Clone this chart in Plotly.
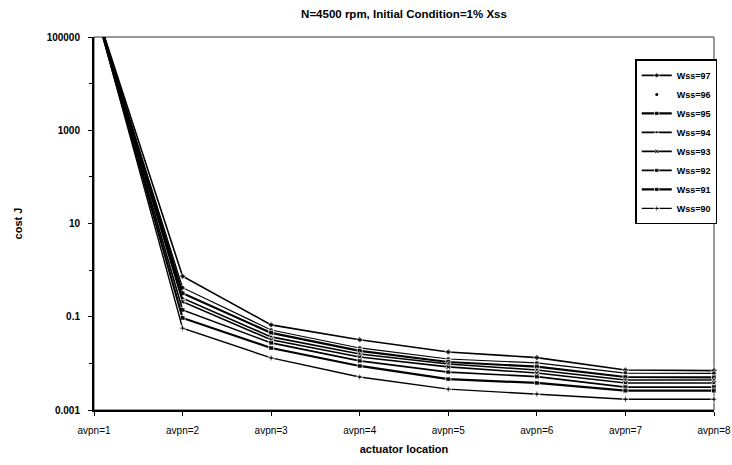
import plotly.graph_objects as go

categories = ["avpn=1", "avpn=2", "avpn=3", "avpn=4", "avpn=5", "avpn=6", "avpn=7", "avpn=8"]
series_names = ["Wss=97", "Wss=96", "Wss=95", "Wss=94", "Wss=93", "Wss=92", "Wss=91", "Wss=90"]

wss97 = [5.0e5, 0.74, 0.067, 0.032, 0.0176, 0.0133, 0.0072, 0.0070]
wss96 = [5.0e5, 0.42, 0.052, 0.0214, 0.0124, 0.0102, 0.0062, 0.0061]
wss95 = [5.0e5, 0.32, 0.045, 0.0185, 0.0107, 0.0085, 0.0051, 0.0050]
wss94 = [5.0e5, 0.25, 0.037, 0.0159, 0.0097, 0.0072, 0.0044, 0.0044]
wss93 = [5.0e5, 0.21, 0.032, 0.0137, 0.0084, 0.0062, 0.0038, 0.0038]
wss92 = [5.0e5, 0.14, 0.0275, 0.0113, 0.0065, 0.0052, 0.0031, 0.0031]
wss91 = [5.0e5, 0.094, 0.0214, 0.0088, 0.0046, 0.0038, 0.0026, 0.0026]
wss90 = [5.0e5, 0.057, 0.0131, 0.0051, 0.0028, 0.0022, 0.0017, 0.0017]

all_series = [wss97, wss96, wss95, wss94, wss93, wss92, wss91, wss90]

y_tickvals = [0.001, 0.1, 10, 1000, 100000]
y_ticktext = ["0.001", "0.1", "10", "1000", "100000"]
y_minor = [0.01, 1, 100, 10000]

symbols = ["diamond", "circle", "square", "triangle-up", "x", "square", "square", "cross"]
widths = [1.6, 1.2, 2.2, 1.6, 1.6, 1.6, 2.2, 1.4]

F = "Liberation Sans, Arial, sans-serif"

fig = go.Figure()
for name, vals, sym, w in zip(series_names, all_series, symbols, widths):
    sizes = [0] + [5] * (len(vals) - 1)
    dotted_legend = (name == "Wss=96")
    fig.add_trace(go.Scatter(
        x=categories, y=vals, name="<b>" + name + "</b>", mode="lines+markers",
        line=dict(color="black", width=w),
        marker=dict(symbol=sym, size=sizes, color="black"),
        cliponaxis=False, showlegend=not dotted_legend,
    ))
    if dotted_legend:
        fig.add_trace(go.Scatter(
            x=[None], y=[None], name="<b>" + name + "</b>", mode="markers",
            marker=dict(symbol="circle", size=3, color="black"),
        ))

fig.update_layout(
    width=732, height=465,
    margin=dict(l=94, r=18, t=37, b=55),
    paper_bgcolor="white", plot_bgcolor="white",
    title=dict(text="<b>N=4500 rpm, Initial Condition=1% Xss</b>",
               x=0.5, xref="paper", y=0.97, yref="container", yanchor="middle",
               font=dict(family=F, size=11.5, color="black")),
    showlegend=True,
    legend=dict(x=0.873, y=0.94, xanchor="left", yanchor="top",
                bgcolor="white", bordercolor="black", borderwidth=1.5,
                font=dict(family=F, size=9, color="black"),
                tracegroupgap=0, itemwidth=30),
    font=dict(family=F, color="black"),
    shapes=[dict(type="rect", xref="paper", yref="paper", x0=0, x1=1, y0=0, y1=1,
                 line=dict(color="#333333", width=1), layer="below")],
)
fig.update_xaxes(
    type="category", range=[0, 7], showgrid=False, zeroline=False,
    showline=True, linecolor="black", linewidth=2,
    ticks="outside", ticklen=4, tickcolor="black", ticklabelstandoff=6,
    tickfont=dict(family=F, size=10, color="black"),
    title=dict(text="<b>actuator location</b>", font=dict(family=F, size=11, color="black"), standoff=10),
    automargin=False,
)
fig.update_yaxes(
    type="log", range=[-3, 5], showgrid=False, zeroline=False,
    showline=True, linecolor="black", linewidth=2,
    tickvals=y_tickvals, ticktext=["<b>" + t + "</b>" for t in y_ticktext],
    ticks="outside", ticklen=4, tickcolor="black", ticklabelstandoff=6,
    minor=dict(tickvals=y_minor, ticks="outside", ticklen=3, tickcolor="black"),
    tickfont=dict(family=F, size=10, color="black"),
    title=dict(text="<b>cost J</b>", font=dict(family=F, size=11, color="black"), standoff=22),
    automargin=False,
)
fig.write_html("out.html")
